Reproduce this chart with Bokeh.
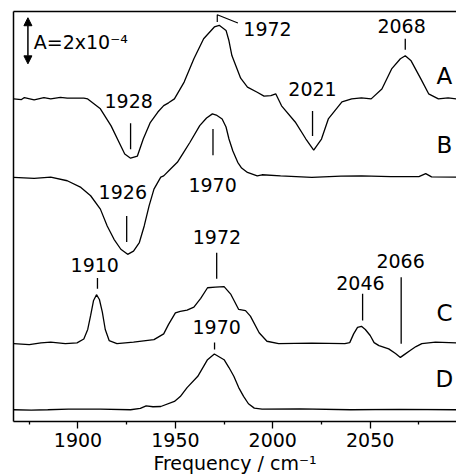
from bokeh.plotting import figure
from bokeh.models import Range1d, LinearAxis, FixedTicker, Arrow, NormalHead
from bokeh.embed import file_html
from bokeh.resources import INLINE
from bokeh.core.properties import value

FONT = "DejaVu Sans"

# ---- spectra (frequency in cm-1, absorbance in units of 1e-4, relative to each trace's baseline)
freq_A = [1867, 1871, 1872.5, 1877.5, 1882.5, 1886, 1891, 1894.5, 1903, 1905, 1911.5, 1917, 1922,
          1924, 1927, 1930.5, 1933.5, 1937, 1941, 1944, 1946.5, 1949.5, 1954.5, 1959.5, 1964.5,
          1970, 1972.5, 1976, 1977.5, 1979, 1983.5, 1987, 1992, 1995.5, 1999, 2001.5, 2004.5,
          2011.5, 2017, 2021, 2025, 2028.5, 2035.5, 2040.5, 2045.5, 2050.5, 2056, 2061, 2065.5,
          2068, 2071, 2076, 2080, 2085, 2090, 2094.3]
abs_A = [0, -0.03, 0.06, -0.04, 0.06, 0, 0.07, 0.03, 0.03, 0, -0.43, -1.17, -2.04,
         -2.39, -2.57, -2.48, -1.74, -1.04, -0.57, -0.29, -0.17, 0, 0.73, 1.74, 2.61,
         3.12, 3.19, 2.97, 2.52, 1.88, 0.90, 0.51, 0.29, 0.12, 0.14, 0.22, -0.30,
         -1.00, -1.74, -2.22, -1.74, -0.87, -0.13, 0, 0.04, 0, 0.43, 1.30, 1.74,
         1.87, 1.65, 0.87, 0.22, 0, 0.04, 0]

freq_B = [1867, 1877.5, 1886, 1894.5, 1901.5, 1906.5, 1911.5, 1915, 1918.5, 1922, 1925.5, 1928.5,
          1931.5, 1934, 1936.5, 1939, 1942.5, 1944, 1947.5, 1951, 1954, 1957.5, 1962.5, 1966,
          1969, 1971, 1974, 1976, 1977.5, 1979.5, 1982, 1984, 1987, 1992, 1994.5, 2004, 2020,
          2035, 2045.5, 2060.5, 2075, 2078.5, 2081.5, 2094.3]
abs_B = [-0.03, -0.08, -0.02, -0.18, -0.47, -0.83, -1.41, -2.14, -2.72, -3.15, -3.37, -3.23,
         -2.86, -2.14, -1.27, -0.54, -0.02, 0.03, 0.33, 0.62, 1.02, 1.49, 2.21, 2.54,
         2.72, 2.67, 2.50, 2.15, 1.63, 1.11, 0.62, 0.37, 0.18, 0.03, 0.08, 0.03, -0.03,
         0.02, 0.03, 0, 0, 0.13, -0.01, -0.02]

freq_C = [1867, 1875, 1881, 1886, 1893.5, 1899.5, 1903, 1905, 1906.5, 1908, 1909.5, 1911,
          1912.5, 1914, 1916, 1920, 1928.5, 1939, 1944, 1946.5, 1950, 1952.5, 1956, 1959.5,
          1963, 1966.5, 1970.5, 1975, 1978.5, 1982.5, 1986, 1988.5, 1993, 1997, 2003, 2020,
          2037, 2039.5, 2041.5, 2043.5, 2045.5, 2047.5, 2050, 2052, 2054.5, 2059.5, 2063,
          2065.5, 2067.5, 2070.5, 2073.5, 2076.5, 2083.5, 2094.3]
abs_C = [0, -0.05, 0.03, 0.06, 0, 0.03, 0.20, 0.61, 1.22, 1.87, 2.12, 1.91,
         1.36, 0.61, 0.13, 0, 0.06, 0.17, 0.42, 0.83, 1.33, 1.40, 1.45, 1.58,
         1.96, 2.42, 2.45, 2.47, 2.13, 1.48, 1.43, 1.19, 0.47, 0.10, 0, 0.02,
         0, 0.04, 0.42, 0.70, 0.75, 0.61, 0.35, 0.04, -0.09, -0.23, -0.43,
         -0.60, -0.48, -0.30, -0.13, 0, 0.06, 0.03]

freq_D = [1867, 1876, 1884.5, 1895, 1911.5, 1927, 1932, 1935, 1938.5, 1942.5, 1949.5, 1952.5,
          1956, 1961.5, 1966.5, 1970, 1975, 1977.5, 1980, 1982.5, 1985, 1987.5, 1990.5,
          1994.5, 2014, 2040, 2065, 2094.3]
abs_D = [0, -0.02, 0, 0.03, 0.03, 0, 0.06, 0.17, 0.13, 0.14, 0.36, 0.57,
         0.96, 1.45, 2.17, 2.42, 2.17, 1.83, 1.45, 0.96, 0.58, 0.26, 0.07,
         0.03, 0.04, 0, 0.02, 0]

trace_names = ["A", "B", "C", "D"]
trace_offsets = [13.99, 10.62, 3.38, 0.51]

x_ticks = [1900, 1950, 2000, 2050]
x_minor_ticks = [1875, 1925, 1975, 2025, 2075]

# peak annotations: label, text x, text y, marker x, marker y0, marker y1
peak_labels = ["1928", "2021", "2068", "1926", "1970", "1910", "1972", "2046", "2066", "1970"]
peak_text_x = [1926.0, 2020.4, 2066.1, 1923.0, 1969.1, 1908.6, 1971.3, 2045.0, 2065.6, 1971.2]
peak_text_y = [13.88, 14.42, 17.16, 9.97, 10.27, 6.78, 7.99, 6.01, 6.97, 4.10]
peak_mark_x = [1927.0, 2020.4, 2068.0, 1925.0, 1969.3, 1910.0, 1971.2, 2046.1, 2065.9, 1970.1]
peak_mark_y0 = [12.93, 13.47, 16.60, 8.91, 12.68, 6.22, 7.32, 5.54, 6.26, 3.43]
peak_mark_y1 = [11.81, 12.38, 16.12, 7.78, 11.55, 5.76, 6.19, 4.38, 3.37, 3.12]

p = figure(width=456, height=476, output_backend="svg", toolbar_location=None,
           x_range=Range1d(1866.9, 2094.3), y_range=Range1d(0, 17.78))
p.outline_line_color = None
p.grid.visible = False
p.background_fill_color = "white"
p.border_fill_color = "white"
p.min_border_left = 13
p.min_border_right = 0
p.min_border_top = 11
p.min_border_bottom = 0

xa = p.xaxis[0]
xa.ticker = FixedTicker(ticks=x_ticks, minor_ticks=x_minor_ticks)
xa.major_tick_out = 7
xa.major_tick_in = 0
xa.minor_tick_out = 3
xa.minor_tick_in = 0
xa.axis_line_width = 1.5
xa.major_tick_line_width = 1.3
xa.minor_tick_line_width = 1.3
xa.major_label_text_font = FONT
xa.major_label_text_font_size = "19px"
xa.major_label_text_color = "black"
xa.major_label_standoff = 4
xa.axis_label = "Frequency / cm\u207b\u00b9"
xa.axis_label_text_font = FONT
xa.axis_label_text_font_size = "19px"
xa.axis_label_text_font_style = "normal"
xa.axis_label_text_color = "black"
xa.axis_label_standoff = 2

ya = p.yaxis[0]
ya.ticker = FixedTicker(ticks=[])
ya.major_tick_out = 0
ya.minor_tick_out = 0
ya.major_tick_in = 0
ya.minor_tick_in = 0
ya.major_label_text_font_size = "0px"
ya.major_label_standoff = 0
ya.axis_line_width = 1.5

top = LinearAxis(ticker=FixedTicker(ticks=[]), major_tick_out=0, minor_tick_out=0,
                 major_tick_in=0, minor_tick_in=0, major_label_text_font_size="0px",
                 major_label_standoff=0, axis_line_width=1.5)
p.add_layout(top, "above")

# spectra
for fx, ay, off in zip([freq_A, freq_B, freq_C, freq_D], [abs_A, abs_B, abs_C, abs_D], trace_offsets):
    p.line(fx, [a + off for a in ay], line_color="black", line_width=1.3)

# trace letters
p.text(x=[2088.1] * 4, y=[14.99, 11.99, 4.70, 1.84], text=trace_names,
       text_font=value(FONT), text_font_size="23px", text_align="center",
       text_baseline="middle", text_color="black")

# peak labels and markers
p.text(x=peak_text_x, y=peak_text_y, text=peak_labels, text_font=value(FONT),
       text_font_size="19px", text_align="center", text_baseline="middle", text_color="black")
p.segment(x0=peak_mark_x, y0=peak_mark_y0, x1=peak_mark_x, y1=peak_mark_y1,
          line_color="black", line_width=1.3)

# 1972 label on A with a leader line
p.text(x=[1997.3], y=[17.03], text=["1972"], text_font=value(FONT), text_font_size="19px",
       text_align="center", text_baseline="middle", text_color="black")
p.line([1971.5, 1971.5, 1982.1], [17.32, 17.64, 17.28], line_color="black", line_width=1.2)

# scale bar: 2e-4 absorbance
p.add_layout(Arrow(start=NormalHead(size=8, fill_color="black", line_color="black"),
                   end=NormalHead(size=8, fill_color="black", line_color="black"),
                   x_start=1874.3, y_start=15.51, x_end=1874.3, y_end=17.51,
                   line_color="black", line_width=1.5))
p.text(x=[1877.3], y=[16.44], text=["A=2x10\u207b\u2074"], text_font=value(FONT),
       text_font_size="19px", text_align="left", text_baseline="middle", text_color="black")

open("out.html", "w").write(file_html(p, INLINE))
